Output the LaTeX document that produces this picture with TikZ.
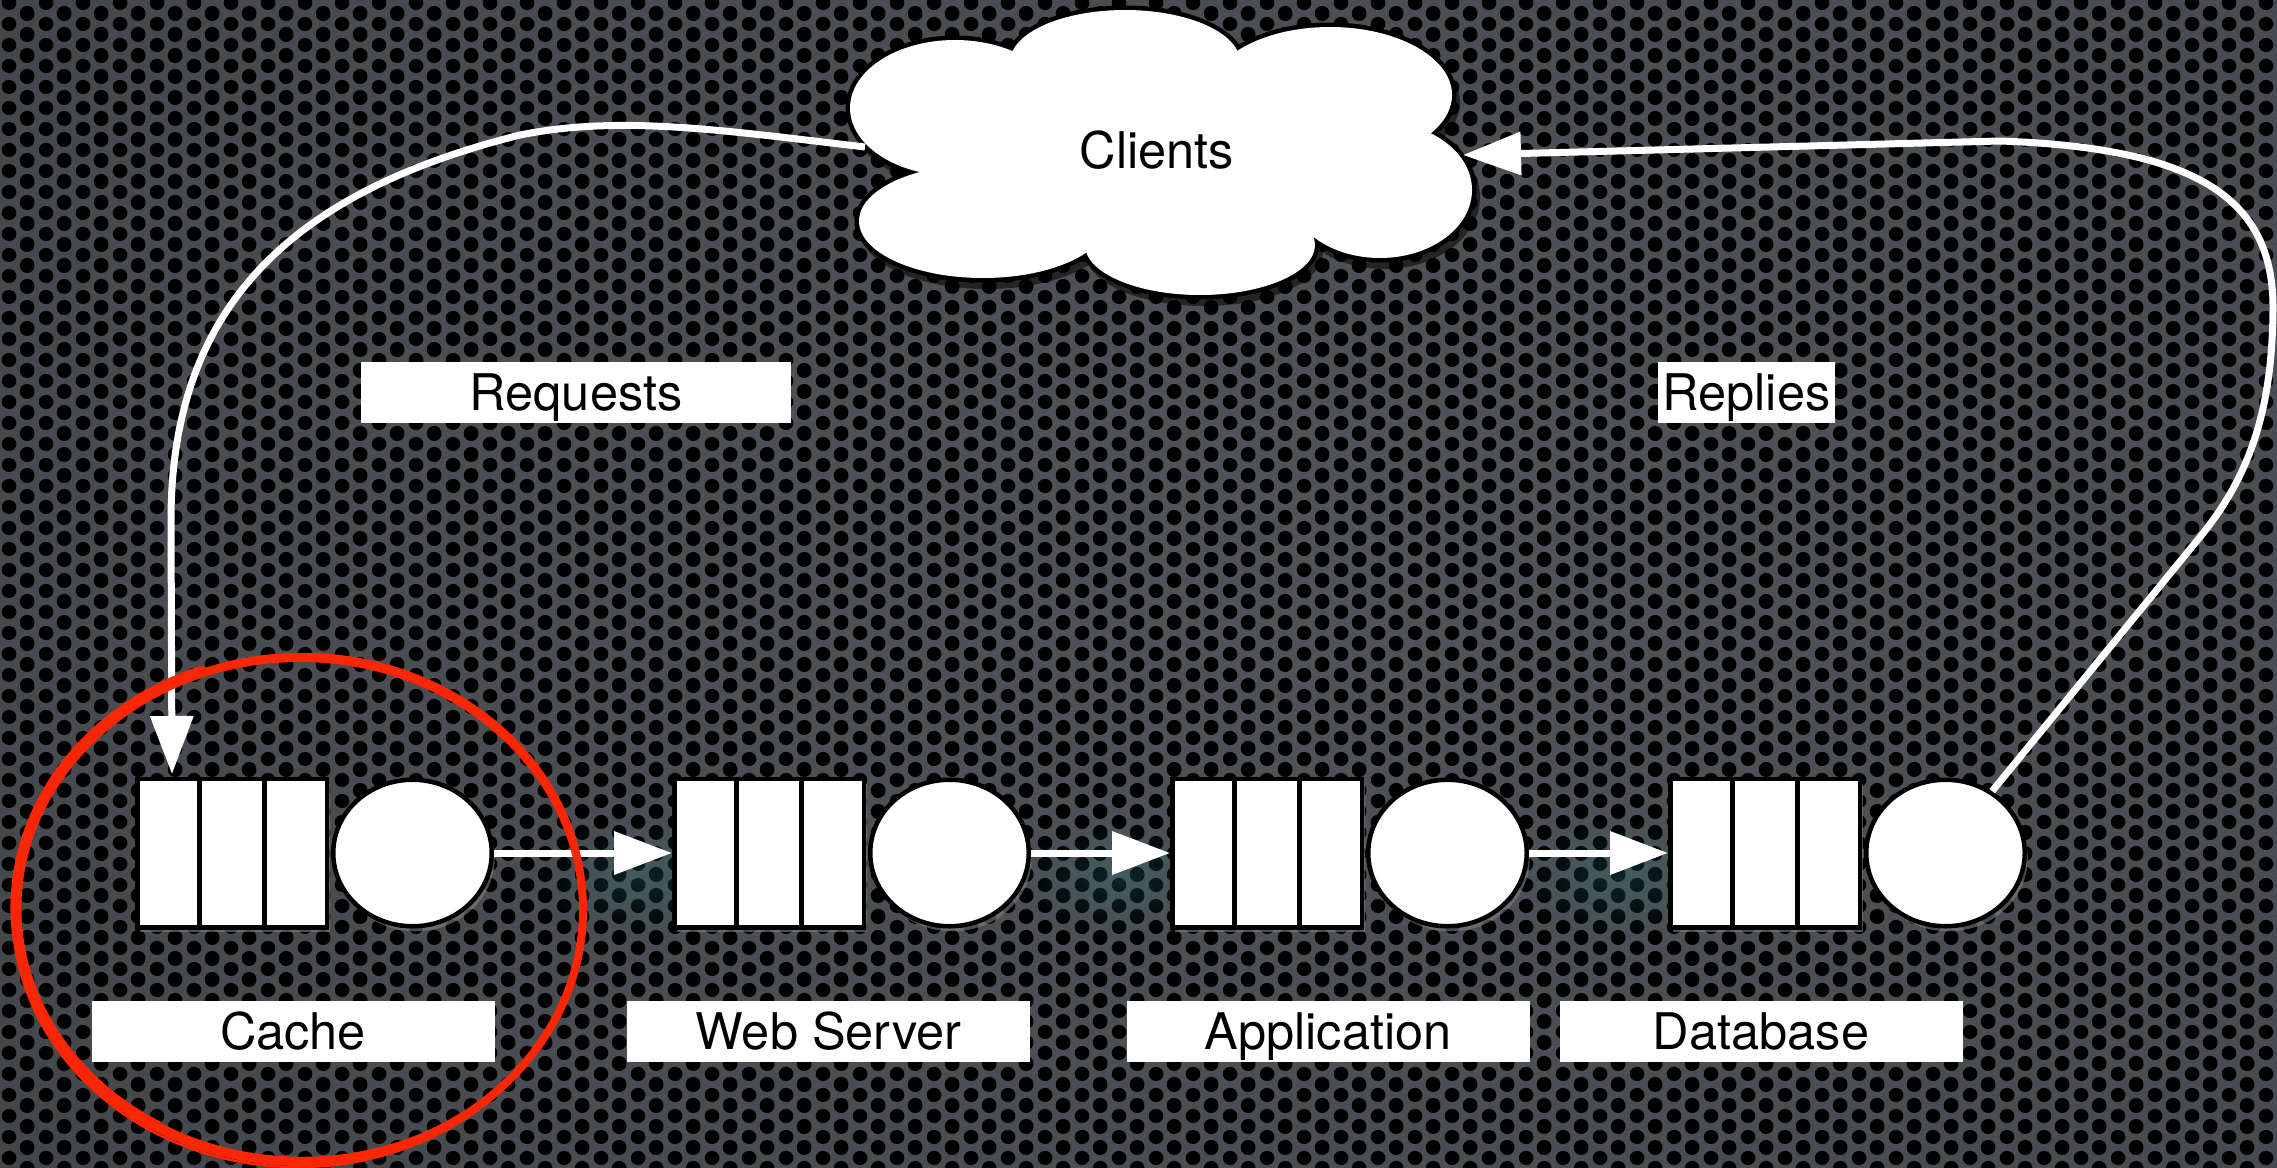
\documentclass[tikz,border=0pt]{standalone}
\usepackage{fontspec}
\setmainfont{TeX Gyre Heros}
\usetikzlibrary{arrows.meta,calc,shadows,fadings,patterns,shapes.geometric}

\definecolor{brushred}{RGB}{250,38,5}
\definecolor{tealglow}{RGB}{45,120,125}
\definecolor{bgA}{RGB}{80,83,88}
\definecolor{bgB}{RGB}{72,75,79}
\definecolor{bgC}{RGB}{56,59,62}
\definecolor{bgD}{RGB}{28,30,32}
\definecolor{bgE}{RGB}{12,13,14}

\pgfdeclareradialshading{vign}{\pgfpoint{0bp}{0bp}}{color(0bp)=(bgA); color(18bp)=(bgB); color(36bp)=(bgC); color(47bp)=(bgD); color(71bp)=(bgE)}

\pgfdeclarepatternformonly{perf}{\pgfqpoint{0pt}{0pt}}{\pgfqpoint{36.6pt}{21pt}}{\pgfqpoint{36.6pt}{21pt}}{%
  \pgfpathcircle{\pgfqpoint{9.15pt}{10.5pt}}{7.4pt}%
  \pgfpathcircle{\pgfqpoint{27.45pt}{0pt}}{7.4pt}%
  \pgfpathcircle{\pgfqpoint{27.45pt}{21pt}}{7.4pt}%
  \pgfusepath{fill}%
}

\tikzfading[name=glowfade, inner color=transparent!0, outer color=transparent!100]

\tikzset{
  qbox/.style={rectangle, draw=black, line width=4.5pt, fill=white,
    minimum width=189.5pt, minimum height=148.5pt, inner sep=0pt,
    drop shadow={opacity=0.6, shadow xshift=3pt, shadow yshift=-5pt}},
  srv/.style={ellipse, draw=black, line width=4.5pt, fill=white,
    minimum width=158.5pt, minimum height=146.5pt, inner sep=0pt,
    drop shadow={opacity=0.6, shadow xshift=3pt, shadow yshift=-5pt}},
  divline/.style={draw=black, line width=4.5pt},
  lbl/.style={fill=white, text=black, inner sep=0pt, text height=36pt,
    text depth=0pt, minimum height=61pt},
  conn/.style={draw=white, line width=7pt, -{Triangle[length=58pt,width=42pt]}},
  brush/.style={draw=brushred, line cap=round},
}

\newcommand{\qstation}[2]{%
  \node[qbox] (#1q) at ({#2+97},853) {};
  \draw[divline] ($(#1q.north west)!1/3!(#1q.north east)$) -- ($(#1q.south west)!1/3!(#1q.south east)$);
  \draw[divline] ($(#1q.north west)!2/3!(#1q.north east)$) -- ($(#1q.south west)!2/3!(#1q.south east)$);
  \node[srv] (#1s) at ({#2+277.5},853) {};
}

\begin{document}
\begin{tikzpicture}[x=1pt, y=-1pt, font=\fontsize{50.5}{60}\selectfont]
\useasboundingbox (0,0) rectangle (2277,1167);

% background: perforated metal with vignette
\begin{scope}
  \clip (0,0) rectangle (2277,1167);
  \shade[shading=vign] (-350,-550) rectangle (3050,1650);
  \fill[pattern=perf, pattern color=black] (0,0) rectangle (2277,1167);
  \foreach \gx in {640,1120,1620}
    \fill[tealglow, path fading=glowfade, fill opacity=0.3] (\gx,878) ellipse [x radius=110, y radius=60];
\end{scope}

% cloud
\begin{scope}[transparency group, opacity=0.55]
  \foreach \cx/\cy/\rx/\ry in {955/108/105/68, 1125/62/115/52, 1330/95/122/68, 1380/190/92/68, 1200/245/115/50, 983/221/124/57}
    \fill[black] (\cx+4,\cy+7) ellipse [x radius=\rx+4, y radius=\ry+4];
\end{scope}
\foreach \cx/\cy/\rx/\ry in {955/108/105/68, 1125/62/115/52, 1330/95/122/68, 1380/190/92/68, 1200/245/115/50, 983/221/124/57}
  \draw[black, line width=9pt] (\cx,\cy) ellipse [x radius=\rx, y radius=\ry];
\foreach \cx/\cy/\rx/\ry in {955/108/105/68, 1125/62/115/52, 1330/95/122/68, 1380/190/92/68, 1200/245/115/50, 983/221/124/57, 1160/155/230/100}
  \fill[white] (\cx,\cy) ellipse [x radius=\rx, y radius=\ry];
\node[text=black, inner sep=0pt, text height=36pt, text depth=0pt] (clients) at (1157,150) {Clients};
\coordinate (cloudL) at (865,147);
\coordinate (cloudR) at (1463,155);

% stations
\qstation{cache}{135}
\qstation{web}{672}
\qstation{app}{1170}
\qstation{db}{1668}

% labels
\node[lbl, minimum width=403pt] (cachelbl) at (293,1031.5) {Cache};
\node[lbl, minimum width=403pt] (weblbl) at (828.5,1031.5) {Web Server};
\node[lbl, minimum width=403pt] (applbl) at (1328,1031.5) {Application};
\node[lbl, minimum width=403pt] (dblbl) at (1761,1031.5) {Database};
\node[lbl, minimum width=430pt] (reqlbl) at (576,392.5) {Requests};
\node[lbl, minimum width=177pt] (replbl) at (1746.5,392) {Replies};

% connectors
\draw[conn] (caches.east) -- (webq.west);
\draw[conn] (webs.east) -- (appq.west);
\draw[conn] (apps.east) -- (dbq.west);

\coordinate (reqend) at (172,774);
\draw[conn] (cloudL) .. controls (720,130) and (620,115) .. (520,135)
  .. controls (300,190) and (171,300) .. (171,520) -- (reqend);

\draw[conn] (dbs.53) -- (2200,537) .. controls (2255,470) and (2272,400) .. (2273,310)
  .. controls (2274,200) and (2200,148) .. (2000,141) -- (cloudR);

% red hand-drawn circle
\draw[brush, line width=8pt] (300,910) ellipse [x radius=283, y radius=252];
\draw[brush, line width=2.5pt] (302,906) ellipse [x radius=283, y radius=252];
\draw[brush, line width=2.5pt] (298,913) ellipse [x radius=285, y radius=254];
\draw[brush, line width=11pt] (299,908) ++(120:283 and 252) arc[start angle=120, end angle=250, x radius=283, y radius=252];
\end{tikzpicture}
\end{document}
